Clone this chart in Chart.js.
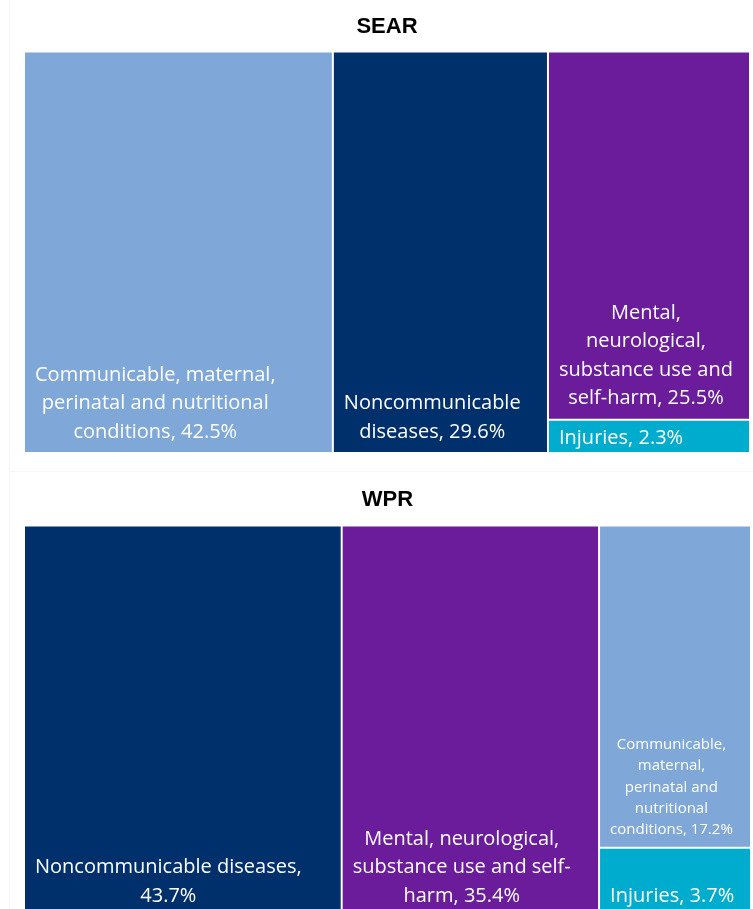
<!DOCTYPE html>
<html>
<head>
<meta charset="utf-8">
<title>SEAR / WPR</title>
<script src="https://cdn.jsdelivr.net/npm/chart.js@4.4.1/dist/chart.umd.min.js"></script>
<style>
  html, body { margin: 0; padding: 0; background: #fff; overflow: hidden; }
  .panel { position: absolute; left: 0; width: 753px; }
  #searBox { top: 0; height: 460px; }
  #wprBox { top: 472px; height: 452px; }
  .frame { position: absolute; left: 9px; width: 744px; border-left: 1px solid #f6f6f6; }
  #frameTop { top: 0; height: 470px; }
  #frameBottom { top: 471px; height: 460px; border-top: 1px solid #f7f7f7; }
</style>
</head>
<body>
<div class="frame" id="frameTop"></div>
<div class="frame" id="frameBottom"></div>
<div class="panel" id="searBox"><canvas id="searChart"></canvas></div>
<div class="panel" id="wprBox"><canvas id="wprChart"></canvas></div>
<script>
// share of burden by cause group, per region (%)
var searCauses = [
  'Communicable, maternal, perinatal and nutritional conditions',
  'Noncommunicable diseases',
  'Mental, neurological, substance use and self-harm',
  'Injuries'
];
var searShares = [42.5, 29.6, 25.5, 2.3];

var wprCauses = [
  'Noncommunicable diseases',
  'Mental, neurological, substance use and self-harm',
  'Communicable, maternal, perinatal and nutritional conditions',
  'Injuries'
];
var wprShares = [43.7, 35.4, 17.2, 3.7];

var causeColors = {
  'Communicable, maternal, perinatal and nutritional conditions': '#7fa8d8',
  'Noncommunicable diseases': '#00306c',
  'Mental, neurological, substance use and self-harm': '#6a1c9a',
  'Injuries': '#00acce'
};

// squarified layout of the values inside a pixel box
function squarify(values, box) {
  var total = values.reduce(function(a, b){ return a + b; }, 0);
  var scale = (box.w * box.h) / total;
  var out = [];
  var rest = { x: box.x, y: box.y, w: box.w, h: box.h };
  var i = 0;

  function worst(row, side) {
    var s = row.reduce(function(a, b){ return a + b; }, 0);
    var mx = Math.max.apply(null, row), mn = Math.min.apply(null, row);
    return Math.max(side * side * mx / (s * s), (s * s) / (side * side * mn));
  }

  while (i < values.length) {
    var side = Math.min(rest.w, rest.h);
    var row = [values[i] * scale];
    var j = i + 1;
    while (j < values.length) {
      var next = row.concat([values[j] * scale]);
      if (worst(next, side) > worst(row, side)) break;
      row = next;
      j++;
    }
    var sum = row.reduce(function(a, b){ return a + b; }, 0);
    if (rest.w >= rest.h) {
      // column on the left
      var cw = sum / rest.h, cy = rest.y;
      row.forEach(function(a){
        out.push({ x: rest.x, y: cy, w: cw, h: a / cw });
        cy += a / cw;
      });
      rest = { x: rest.x + cw, y: rest.y, w: rest.w - cw, h: rest.h };
    } else {
      // row along the top
      var rh = sum / rest.w, cx = rest.x;
      row.forEach(function(a){
        out.push({ x: cx, y: rest.y, w: a / rh, h: rh });
        cx += a / rh;
      });
      rest = { x: rest.x, y: rest.y + rh, w: rest.w, h: rest.h - rh };
    }
    i = j;
  }
  return out;
}

// break a label after spaces and hyphens so it fits maxWidth
function wrapLabel(ctx, text, maxWidth) {
  var pieces = text.split(/(?<=[ -])/);
  var lines = [], line = '';
  pieces.forEach(function(p){
    var test = line + p;
    if (line && ctx.measureText(test.trimEnd()).width > maxWidth) {
      lines.push(line.trimEnd());
      line = p;
    } else {
      line = test;
    }
  });
  if (line) lines.push(line.trimEnd());
  return lines;
}

class TreemapController extends Chart.DatasetController {
  update(mode) {
    var meta = this._cachedMeta;
    this.updateElements(meta.data, 0, meta.data.length, mode);
  }

  updateElements(rects, start, count, mode) {
    var meta = this._cachedMeta;
    var xs = meta.xScale, ys = meta.yScale;
    var left = xs.getPixelForValue(xs.min), right = xs.getPixelForValue(xs.max);
    var top = ys.getPixelForValue(ys.max), bottom = ys.getPixelForValue(ys.min);
    var boxes = squarify(this.getDataset().data, { x: left, y: top, w: right - left, h: bottom - top });
    for (var i = start; i < start + count; i++) {
      var b = boxes[i];
      this.updateElement(rects[i], i, {
        x: b.x + b.w / 2,
        y: b.y,
        base: b.y + b.h,
        width: b.w,
        height: b.h,
        horizontal: false,
        borderSkipped: {},
        inflateAmount: 0,
        options: this.resolveDataElementOptions(i, mode)
      }, mode);
    }
  }

  draw() {
    super.draw();
    var ctx = this.chart.ctx;
    var ds = this.getDataset();
    var names = this.chart.data.labels;
    var padX = 11, padY = 7;

    this._cachedMeta.data.forEach(function(rect, i){
      var p = rect.getProps(['x', 'y', 'base', 'width']);
      var l = p.x - p.width / 2, t = p.y, h = p.base - p.y;
      var size = ds.labelSizes[i];
      var lh = size * 1.42;

      ctx.save();
      ctx.font = size + 'px "Open Sans"';
      ctx.fillStyle = '#ffffff';
      ctx.textAlign = 'center';
      ctx.textBaseline = 'middle';

      var lines = wrapLabel(ctx, names[i] + ', ' + ds.data[i] + '%', p.width - 2 * padX);
      var blockW = Math.max.apply(null, lines.map(function(s){ return ctx.measureText(s).width; }));
      var blockH = lines.length * lh;
      var cx = l + padX + blockW / 2;
      var y0;
      if (blockH + 2 * padY <= h) {
        y0 = p.base - padY - blockH + lh / 2;
      } else {
        // too tight: centre it and let it sit a little low
        y0 = t + h / 2 - blockH / 2 + lh / 2 + 2;
      }
      lines.forEach(function(s, k){
        ctx.fillText(s, cx, y0 + k * lh);
      });
      ctx.restore();
    });
  }
}
TreemapController.id = 'treemap';
TreemapController.defaults = { dataElementType: 'bar', datasetElementType: false };
Chart.register(TreemapController);

function makeTreemap(canvasId, title, causes, shares, labelSizes, titlePad, pad) {
  return new Chart(document.getElementById(canvasId), {
    type: 'treemap',
    data: {
      labels: causes,
      datasets: [{
        data: shares,
        backgroundColor: causes.map(function(c){ return causeColors[c]; }),
        borderColor: '#ffffff',
        borderWidth: 1,
        labelSizes: labelSizes
      }]
    },
    options: {
      responsive: true,
      maintainAspectRatio: false,
      animation: false,
      layout: { padding: pad },
      scales: {
        x: { type: 'linear', min: 0, max: 100, display: false },
        y: { type: 'linear', min: 0, max: 100, display: false }
      },
      plugins: {
        legend: { display: false },
        tooltip: { enabled: false },
        title: {
          display: true,
          text: title,
          color: '#000000',
          font: { family: '"Liberation Sans", Arial, sans-serif', size: 22, weight: 'bold' },
          padding: titlePad
        }
      }
    }
  });
}

makeTreemap('searChart', 'SEAR', searCauses, searShares, [20, 20, 20, 20],
  { top: 14, bottom: 11 }, { left: 24, right: 3, top: 0, bottom: 7 });
makeTreemap('wprChart', 'WPR', wprCauses, wprShares, [20, 20, 15, 20],
  { top: 15, bottom: 12 }, { left: 24, right: 2, top: 0, bottom: 7 });
</script>
</body>
</html>
